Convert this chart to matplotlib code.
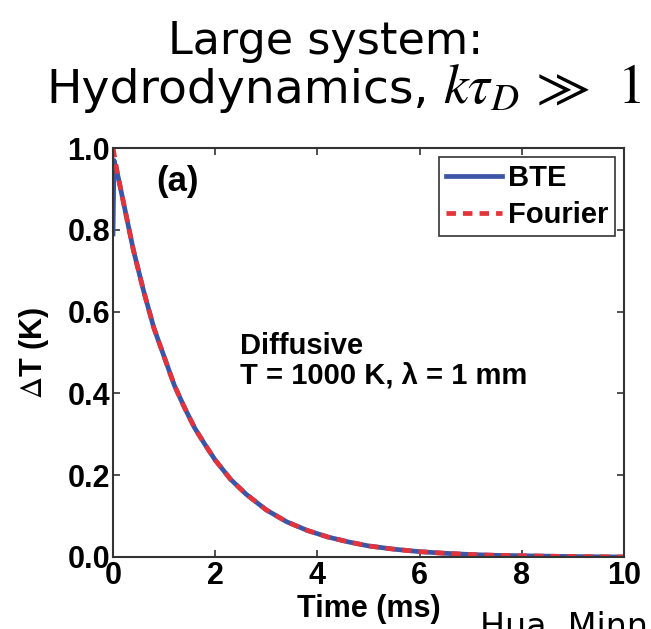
import matplotlib.pyplot as plt
import numpy as np

# values
t_fourier = [0, 0.1, 0.2, 0.3, 0.4, 0.5, 0.6, 0.8, 1.0, 1.2, 1.4, 1.6, 1.8, 2.0, 2.3, 2.6,
             3.0, 3.4, 3.8, 4.2, 4.6, 5.0, 5.5, 6.0, 6.5, 7.0, 7.5, 8.0, 9.0, 10.0]
dT_fourier = [1.0, 0.93, 0.87, 0.81, 0.75, 0.70, 0.65, 0.56, 0.49, 0.42, 0.365, 0.315, 0.275,
              0.237, 0.19, 0.154, 0.115, 0.086, 0.065, 0.049, 0.037, 0.027, 0.019, 0.013,
              0.009, 0.006, 0.004, 0.003, 0.001, 0.0]
t_bte = [0, 0.02] + t_fourier[1:]
dT_bte = [0.79, 0.97] + dT_fourier[1:]

xticks = [0, 2, 4, 6, 8, 10]
yticks = [0.0, 0.2, 0.4, 0.6, 0.8, 1.0]

plt.rcParams['font.family'] = 'Liberation Sans'
plt.rcParams['mathtext.fontset'] = 'stix'

fig = plt.figure(figsize=(6.51, 6.29), dpi=100)
ax = fig.add_axes([0.1736, 0.1145, 0.785, 0.650])

ax.plot(t_bte, dT_bte, color='#3b55a8', linewidth=3.4, label='BTE')
ax.plot(t_fourier, dT_fourier, color='#e2343a', linewidth=3.4, linestyle=(0, (2.0, 1.5)), label='Fourier')

ax.set_xlim(0, 10)
ax.set_ylim(0, 1)
ax.set_xticks(xticks)
ax.set_yticks(yticks)
ax.set_yticklabels(['%.1f' % v for v in yticks])
ax.tick_params(direction='in', length=5, width=1.2, top=True, right=True,
               labelsize=22, color='#333333')
ax.tick_params(axis='x', pad=3)
ax.tick_params(axis='y', pad=2)
for lab in ax.get_xticklabels() + ax.get_yticklabels():
    lab.set_fontweight('bold')
for s in ax.spines.values():
    s.set_linewidth(1.5)
    s.set_color('#333333')

ax.set_xlabel('Time (ms)', fontsize=22, fontweight='bold', labelpad=2)
ax.set_ylabel(r'$\Delta$T (K)', fontsize=22, fontweight='bold', labelpad=12)

ax.text(0.085, 0.895, '(a)', transform=ax.transAxes, fontsize=25, fontweight='bold')
ax.text(0.248, 0.425, 'Diffusive\nT = 1000 K, \u03bb = 1 mm', transform=ax.transAxes,
        fontsize=21, fontweight='bold', linespacing=1.05)

leg = ax.legend(loc='upper right', prop={'weight': 'bold', 'size': 21},
                handlelength=1.9, handletextpad=0.2, borderpad=0.25, labelspacing=0.3,
                fancybox=False, framealpha=1, edgecolor='#333333', borderaxespad=0.3)
leg.get_frame().set_linewidth(1.2)

# title
fig.text(0.5, 0.914, 'Large system:', ha='center', va='baseline', fontsize=32,
         family='DejaVu Sans')
fig.text(0.0707, 0.836, 'Hydrodynamics,', ha='left', va='baseline', fontsize=34,
         family='DejaVu Sans')
fig.text(0.681, 0.836, r'$k\tau_{D}$', ha='left', va='baseline', fontsize=40)
fig.text(0.812, 0.836, r'$\gg$', ha='left', va='baseline', fontsize=40)
fig.text(0.948, 0.836, r'$1$', ha='left', va='baseline', fontsize=40)

fig.text(0.738, -0.012, 'Hua, Minnich', ha='left', va='baseline', fontsize=24,
         family='DejaVu Sans')

fig.savefig('out.png', dpi=100)
